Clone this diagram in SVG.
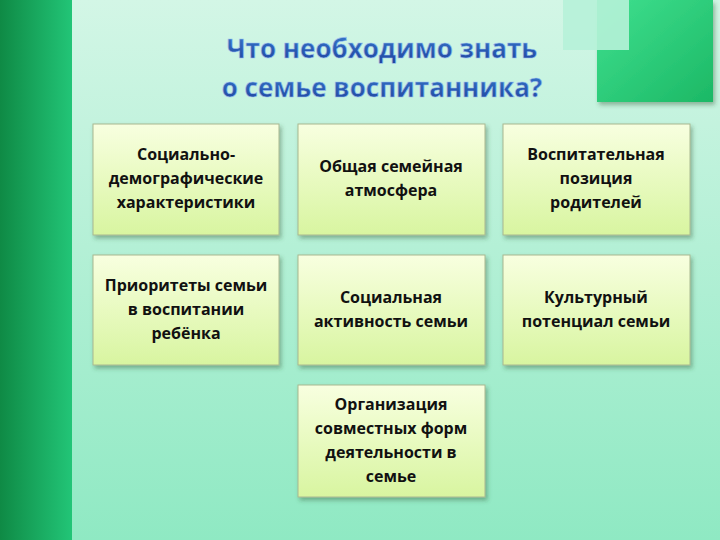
<svg xmlns="http://www.w3.org/2000/svg" width="720" height="540" viewBox="0 0 720 540">
<defs>
<linearGradient id="bg" x1="0" y1="0" x2="0" y2="1"><stop offset="0" stop-color="#d3f6e6"/><stop offset="1" stop-color="#8fe9c3"/></linearGradient>
<linearGradient id="band" x1="0" y1="0" x2="1" y2="0"><stop offset="0" stop-color="#0f8a45"/><stop offset="1" stop-color="#22c577"/></linearGradient>
<linearGradient id="box" x1="0" y1="0" x2="0" y2="1"><stop offset="0" stop-color="#f8ffe0"/><stop offset="1" stop-color="#d8f5a0"/></linearGradient>
<linearGradient id="sq" x1="0" y1="0" x2="1" y2="1"><stop offset="0" stop-color="#3fe08f"/><stop offset="1" stop-color="#1cb865"/></linearGradient>
<linearGradient id="tt" x1="0" y1="0" x2="0" y2="1"><stop offset="0" stop-color="#3a7fd0"/><stop offset="1" stop-color="#1d3f9a"/></linearGradient>
<filter id="sh" x="-10%" y="-10%" width="130%" height="130%"><feDropShadow dx="2" dy="3" stdDeviation="2" flood-color="#335533" flood-opacity="0.4"/></filter>
<style>
.b{fill:url(#box);stroke:#a8b890;stroke-width:1;filter:url(#sh)}
.t{font-family:"Open Sans","Liberation Sans",sans-serif;font-weight:bold;font-size:16px;fill:#111;text-anchor:middle}
.h{font-family:"Open Sans","Liberation Sans",sans-serif;font-weight:bold;font-size:26px;fill:url(#tt);stroke:#9cc0ee;stroke-width:0.6;text-anchor:middle}
</style>
</defs>
<rect width="720" height="540" fill="url(#bg)"/>
<rect width="72" height="540" fill="url(#band)"/>
<rect x="597" y="0" width="116" height="102" fill="url(#sq)" filter="url(#sh)"/>
<rect x="563" y="0" width="66" height="50" fill="#b6f2d8" opacity="0.9"/>
<text class="h" x="382" y="58">Что необходимо знать</text>
<text class="h" x="382" y="97">о семье воспитанника?</text>
<g id="n1"><rect class="b" x="93" y="124" width="186" height="111"/><text class="t" x="186" y="160">Социально-</text><text class="t" x="186" y="184">демографические</text><text class="t" x="186" y="208">характеристики</text></g>
<g id="n2"><rect class="b" x="298" y="124" width="187" height="111"/><text class="t" x="391" y="172">Общая семейная</text><text class="t" x="391" y="196">атмосфера</text></g>
<g id="n3"><rect class="b" x="503" y="124" width="187" height="111"/><text class="t" x="596" y="160">Воспитательная</text><text class="t" x="596" y="184">позиция</text><text class="t" x="596" y="208">родителей</text></g>
<g id="n4"><rect class="b" x="93" y="255" width="186" height="110"/><text class="t" x="186" y="291">Приоритеты семьи</text><text class="t" x="186" y="315">в воспитании</text><text class="t" x="186" y="339">ребёнка</text></g>
<g id="n5"><rect class="b" x="298" y="255" width="187" height="110"/><text class="t" x="391" y="303">Социальная</text><text class="t" x="391" y="327">активность семьи</text></g>
<g id="n6"><rect class="b" x="503" y="255" width="187" height="110"/><text class="t" x="596" y="303">Культурный</text><text class="t" x="596" y="327">потенциал семьи</text></g>
<g id="n7"><rect class="b" x="298" y="385" width="187" height="112"/><text class="t" x="391" y="410">Организация</text><text class="t" x="391" y="434">совместных форм</text><text class="t" x="391" y="458">деятельности в</text><text class="t" x="391" y="482">семье</text></g>
<g id="connectors"/>
</svg>
